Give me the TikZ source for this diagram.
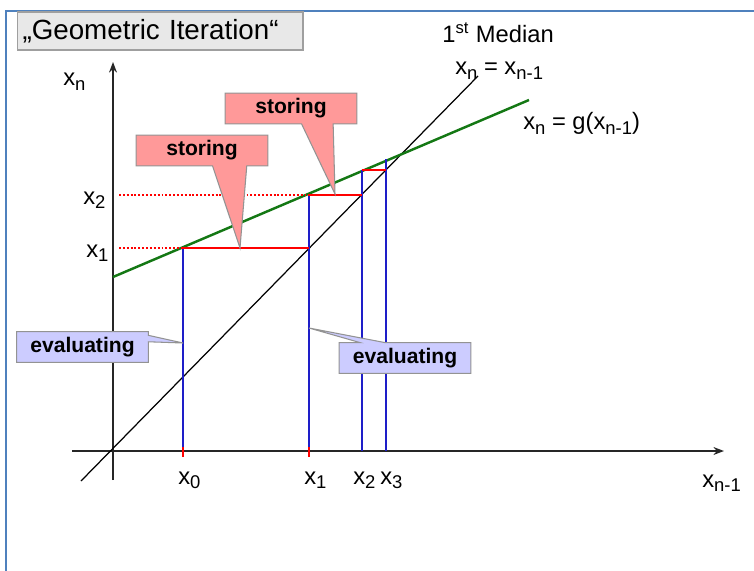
\documentclass[tikz,border=0pt]{standalone}
\usepackage{fontspec}
\setmainfont{Liberation Sans}
\usepackage{tikz}
\usetikzlibrary{calc,arrows.meta,positioning}
\pgfdeclarelayer{bottom}
\pgfdeclarelayer{background}
\pgfsetlayers{bottom,background,main}
\definecolor{frameblue}{RGB}{79,129,189}
\definecolor{storepink}{RGB}{255,153,153}
\definecolor{evallilac}{RGB}{204,204,255}
\definecolor{gline}{RGB}{20,120,20}
\definecolor{vline}{RGB}{30,30,200}
\newcommand{\lowidx}[1]{\raisebox{-2.6pt}{\fontsize{10.5}{12}\selectfont#1}}

\begin{document}
\begin{tikzpicture}[x=0.02cm, y=-0.02cm,
  lbl/.style={font=\fontsize{13.5}{16}\selectfont, inner sep=0, anchor=base west},
  titlebox/.style={draw=gray!75, fill=gray!18, line width=0.6pt, text width=5.5cm,
                   align=left, inner xsep=0.11cm, minimum height=0.76cm, inner ysep=0,
                   font=\fontsize{15.8}{18}\selectfont},
  tag/.style={minimum width=2.62cm, minimum height=0.6cm, inner sep=0,
              font=\fontsize{12}{14}\bfseries\selectfont},
  storefill/.style={fill=storepink, draw=gray!85, line width=0.6pt},
  evalfill/.style={fill=evallilac, draw=gray!85, line width=0.6pt},
  axisline/.style={draw=black!85, line width=1.1pt, -{Stealth[length=6pt,width=4.5pt]}},
  blueline/.style={draw=vline, line width=0.9pt},
  redline/.style={draw=red, line width=0.9pt},
  reddots/.style={draw=red, line width=1.1pt, dash pattern=on 1.1pt off 1.1pt},
]
\useasboundingbox (0,0) rectangle (754,571);

% frame and title
\draw[frameblue, line width=1.2pt] (6,571) -- (6,11) -- (754,11);
\node[titlebox] (ttl) at (160,31) {„Geometric Iteration“};

% points of the iteration
\coordinate (o) at (113,451);
\coordinate (a0) at (183,451);  \coordinate (g0) at (183,248);
\coordinate (a1) at (309,451);  \coordinate (g1) at (309,195);  \coordinate (d1) at (309,248);
\coordinate (a2) at (362,451);  \coordinate (g2) at (362,170);  \coordinate (d2) at (362,195);
\coordinate (a3) at (386,451);  \coordinate (g3) at (386,159);  \coordinate (d3) at (386,170);

% axes, median and g
\begin{pgfonlayer}{bottom}
\draw[axisline] (72,451) -- (724,451);
\draw[axisline] (113,480) -- (113,62);
\draw[black, line width=0.7pt] (81,481) -- (478,76);
\draw[gline, line width=1.4pt] (113,277) -- (529,100);
% evaluating / storing steps
\draw[blueline] (a0) -- (g0);
\draw[blueline] (a1) -- (g1);
\draw[blueline] (a2) -- (g2);
\draw[blueline] (a3) -- (g3);
\draw[redline] (g0) -- (d1);
\draw[redline] (g1) -- (d2);
\draw[redline] (g2) -- (d3);
\draw[reddots] (119,248) -- (g0);
\draw[reddots] (119,195) -- (g1);
\draw[redline] (183,447) -- (183,457);
\draw[redline] (309,447) -- (309,457);
\end{pgfonlayer}

% axis labels
\node[lbl] (yl) at (63,86) {x\lowidx{n}};
\node[lbl] (ly2) at (83,204) {x\lowidx{2}};
\node[lbl] (ly1) at (86,257) {x\lowidx{1}};
\node[lbl] (lx0) at (178,484) {x\lowidx{0}};
\node[lbl] (lx1) at (304,484) {x\lowidx{1}};
\node[lbl] (lx2) at (353,484) {x\lowidx{2}};
\node[lbl] (lx3) at (380,484) {x\lowidx{3}};
\node[lbl] (xl) at (702,487) {x\lowidx{n-1}};
\node[lbl] (med) at (442,43) {1\textsuperscript{st} Median};
\node[lbl] (medeq) at (455,75) {x\lowidx{n} = x\lowidx{n-1}};
\node[lbl] (geq) at (523,130) {x\lowidx{n} = g(x\lowidx{n-1})};

% callouts
\node[tag] (st1) at (202,150.5) {storing};
\node[tag] (st2) at (291,108.5) {storing};
\node[tag] (ev1) at (82.5,347) {evaluating};
\node[tag] (ev2) at (405,358) {evaluating};
\coordinate (t1) at (240,248);
\coordinate (t2) at (335,194);
\coordinate (t3) at (183,343);
\coordinate (t4) at (309,328);

\begin{pgfonlayer}{background}
\draw[storefill] (st1.north west) -- (st1.north east) -- (st1.south east)
  -- ($(st1.south west)!.84!(st1.south east)$) -- (t1)
  -- ($(st1.south west)!.58!(st1.south east)$) -- (st1.south west) -- cycle;
\draw[storefill] (st2.north west) -- (st2.north east) -- (st2.south east)
  -- ($(st2.south west)!.82!(st2.south east)$) -- (t2)
  -- ($(st2.south west)!.58!(st2.south east)$) -- (st2.south west) -- cycle;
\draw[evalfill] (ev1.north west) -- (ev1.north east)
  -- ($(ev1.north east)!.12!(ev1.south east)$) -- (t3)
  -- ($(ev1.north east)!.33!(ev1.south east)$) -- (ev1.south east)
  -- (ev1.south west) -- cycle;
\draw[evalfill] (ev2.north west) -- ($(ev2.north west)!.16!(ev2.north east)$) -- (t4)
  -- ($(ev2.north west)!.35!(ev2.north east)$) -- (ev2.north east)
  -- (ev2.south east) -- (ev2.south west) -- cycle;
\end{pgfonlayer}

\end{tikzpicture}
\end{document}
